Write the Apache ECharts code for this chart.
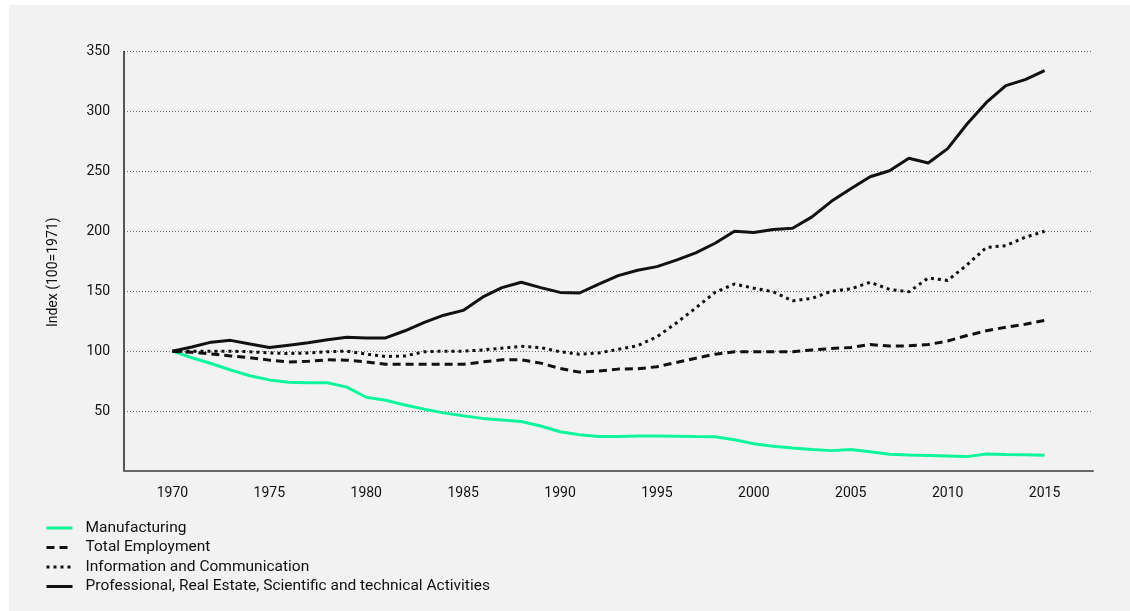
<!DOCTYPE html>
<html>
<head>
<meta charset="utf-8">
<script src="https://cdn.jsdelivr.net/npm/echarts@6/dist/echarts.min.js"></script>
<style>
  html, body { margin: 0; padding: 0; background: #ffffff; }
  #chart { position: absolute; left: 9px; top: 5px; width: 1121px; height: 606px; background: #f2f2f2; }
</style>
</head>
<body>
<div id="chart"></div>
<script>
var years = [1970, 1971, 1972, 1973, 1974, 1975, 1976, 1977, 1978, 1979,
  1980, 1981, 1982, 1983, 1984, 1985, 1986, 1987, 1988, 1989,
  1990, 1991, 1992, 1993, 1994, 1995, 1996, 1997, 1998, 1999,
  2000, 2001, 2002, 2003, 2004, 2005, 2006, 2007, 2008, 2009,
  2010, 2011, 2012, 2013, 2014, 2015];
var xTicks = [1970, 1975, 1980, 1985, 1990, 1995, 2000, 2005, 2010, 2015];

var manufacturing = [100, 94.5, 89.7, 84.3, 79.5, 76, 74, 73.6, 73.6, 70,
  61.5, 59, 55, 51.6, 48.5, 46.1, 43.9, 42.6, 41.3, 37.5,
  32.8, 30.3, 28.7, 28.8, 29.3, 29.1, 28.9, 28.7, 28.6, 26,
  22.8, 20.7, 19.2, 18, 17, 18, 16, 14, 13.4, 13,
  12.5, 12, 14.2, 13.8, 13.5, 13.1];
var totalEmployment = [100, 99, 97.7, 96, 94.5, 92.5, 91, 91.5, 92.8, 92.5,
  91, 89, 89, 89, 89, 89, 91, 92.8, 92.8, 90,
  85.5, 82.5, 83.5, 85, 85.3, 87, 90.5, 94, 97.5, 99.4,
  99.4, 99.4, 99.4, 101, 102.2, 103, 105.5, 104.2, 104.4, 105.5,
  108.5, 113, 117, 120, 122.5, 125.6];
var infoComm = [100, 100, 100, 100, 99.5, 98.5, 98, 98.5, 99.5, 100,
  97.5, 95.5, 96, 99.5, 100, 100, 101, 102.5, 104, 103,
  99.5, 97.5, 98.5, 101.5, 104.5, 112, 123.5, 136, 149, 156,
  152.5, 149.5, 142, 144, 150, 152, 157.5, 151.5, 149.5, 161,
  159, 172, 186.5, 188, 195, 200];
var professional = [100, 103.5, 107.5, 109, 106, 103, 105, 107, 109.5, 111.5,
  111, 111, 117, 124, 130, 134, 145, 153, 157.5, 153,
  149, 148.5, 156, 163, 167.5, 170.5, 176, 182, 190, 200,
  199, 201.5, 202.5, 212, 225, 235.5, 245.5, 250.5, 261, 257,
  269, 289.5, 307.5, 321.5, 326.5, 334];

var green = '#0ff59b';
var ink = '#111111';
var text = '#111111';
var font = 'Roboto, "Noto Sans", sans-serif';

function pairs(vals) {
  return years.map(function (y, i) { return [y, vals[i]]; });
}

var chart = echarts.init(document.getElementById('chart'), null, { renderer: 'canvas' });
chart.setOption({
  animation: false,
  backgroundColor: '#f2f2f2',
  textStyle: { fontFamily: font },
  grid: { left: 115, right: 37, top: 46.5, bottom: 140 },
  legend: {
    orient: 'vertical',
    left: 31,
    top: 510,
    itemWidth: 26,
    itemHeight: 14,
    itemGap: 3.5,
    itemStyle: { opacity: 0 },
    lineStyle: { width: 3 },
    textStyle: { fontFamily: font, fontSize: 15.5, color: text, padding: [0, 0, 0, 8] },
    data: ['Manufacturing', 'Total Employment', 'Information and Communication',
      'Professional, Real Estate, Scientific and technical Activities']
  },
  xAxis: {
    type: 'value',
    min: 1967.5,
    max: 2017.5,
    axisLine: { lineStyle: { color: '#666666', width: 2 } },
    axisTick: { show: false },
    splitLine: { show: false },
    axisLabel: {
      customValues: xTicks,
      margin: 15,
      color: text,
      fontSize: 14,
      fontFamily: font,
      formatter: function (v) { return String(v); }
    }
  },
  yAxis: {
    type: 'value',
    min: 0,
    max: 350,
    interval: 50,
    name: 'Index (100=1971)',
    nameLocation: 'middle',
    nameGap: 64,
    nameTextStyle: { fontSize: 14, color: text, fontFamily: font, padding: [0, 22, 0, 0] },
    axisLine: { show: true, lineStyle: { color: '#222222', width: 1.5 } },
    axisTick: { show: false },
    axisLabel: {
      margin: 14,
      color: text,
      fontSize: 14,
      fontFamily: font,
      formatter: function (v) { return v === 0 ? '' : String(v); }
    },
    splitLine: { lineStyle: { color: '#6e6e6e', width: 1, type: [1, 2] } }
  },
  series: [
    {
      name: 'Manufacturing', type: 'line', symbol: 'none', data: pairs(manufacturing),
      lineStyle: { color: green, width: 3 }, itemStyle: { color: green }
    },
    {
      name: 'Total Employment', type: 'line', symbol: 'none', data: pairs(totalEmployment),
      lineStyle: { color: ink, width: 3, type: [8, 5] }, itemStyle: { color: ink }
    },
    {
      name: 'Information and Communication', type: 'line', symbol: 'none', data: pairs(infoComm),
      lineStyle: { color: ink, width: 3, type: [3, 4] }, itemStyle: { color: ink }
    },
    {
      name: 'Professional, Real Estate, Scientific and technical Activities', type: 'line', symbol: 'none',
      data: pairs(professional),
      lineStyle: { color: ink, width: 3 }, itemStyle: { color: ink }
    }
  ]
});
</script>
</body>
</html>
